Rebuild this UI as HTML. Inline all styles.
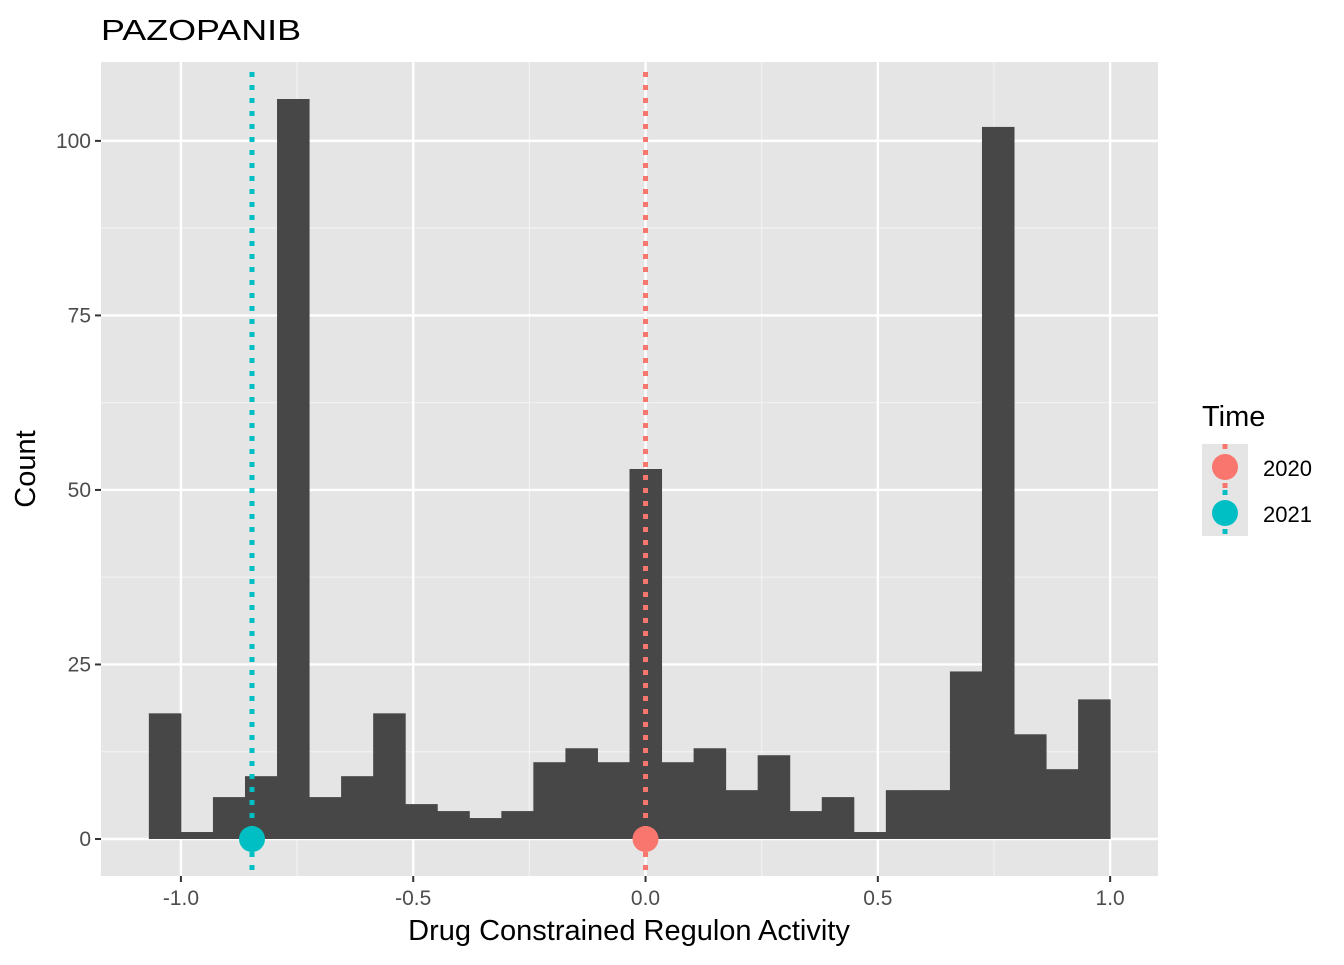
<!DOCTYPE html>
<html><head><meta charset="utf-8"><style>
body{margin:0;background:#fff;font-family:"Liberation Sans",Arial,sans-serif}
</style></head><body>
<svg id="chart" width="1344" height="960" xmlns="http://www.w3.org/2000/svg" font-family="Liberation Sans, Arial, sans-serif">
<text x="101" y="40" font-size="29" fill="#000" textLength="200" lengthAdjust="spacingAndGlyphs">PAZOPANIB</text>
<rect x="101" y="62" width="1057" height="814" fill="#e5e5e5"/>
<g id="grid"></g>
<g id="bars"></g>
<g id="vlines"></g>
<g id="axes"></g>
<text x="629" y="940" font-size="29" text-anchor="middle" fill="#000">Drug Constrained Regulon Activity</text>
<text transform="translate(35,469) rotate(-90)" font-size="29" text-anchor="middle" fill="#000">Count</text>
<g>
<text x="1202" y="426" font-size="29" fill="#000">Time</text>
<rect x="1202" y="444" width="46" height="46" fill="#e5e5e5"/>
<rect x="1202" y="490" width="46" height="46" fill="#e5e5e5"/>
<line x1="1225" y1="444" x2="1225" y2="490" stroke="#F8766D" stroke-width="5" stroke-dasharray="5,8"/>
<line x1="1225" y1="490" x2="1225" y2="536" stroke="#00BFC4" stroke-width="5" stroke-dasharray="5,8"/>
<circle cx="1225" cy="467" r="13" fill="#F8766D"/>
<circle cx="1225" cy="513" r="13" fill="#00BFC4"/>
<text x="1263" y="476" font-size="22" fill="#000">2020</text>
<text x="1263" y="522" font-size="22" fill="#000">2021</text>
</g>
</svg>
<script>
const counts=[18,1,6,9,106,6,9,18,5,4,3,4,11,13,11,53,11,13,7,12,4,6,1,7,7,24,102,15,10,20];
const binStart=-1.069;
const binEnd=1.0;
const xTicks=[-1.0,-0.5,0.0,0.5,1.0];
const xTickLabels=["-1.0","-0.5","0.0","0.5","1.0"];
const yTicks=[0,25,50,75,100];
const vlineValues=[0.0,-0.847];
const vlineColors=["#F8766D","#00BFC4"];
const vlineNames=["2020","2021"];
const NS="http://www.w3.org/2000/svg";
const X0=101,X1=1158,Y0=62,Y1=876;
const xmin=-1.172,xmax=1.103,ymin=-5.3,ymax=111.3;
const sx=v=>X0+(v-xmin)/(xmax-xmin)*(X1-X0);
const sy=v=>Y1-(v-ymin)/(ymax-ymin)*(Y1-Y0);
function mk(tag,attrs,parent){const e=document.createElementNS(NS,tag);for(const k in attrs)e.setAttribute(k,attrs[k]);document.getElementById(parent).appendChild(e);return e;}
for(let i=0;i<yTicks.length-1;i++){const m=(yTicks[i]+yTicks[i+1])/2;const l=mk('line',{x1:X0,x2:X1,y1:sy(m),y2:sy(m),stroke:'#f2f2f2','stroke-width':1.2},'grid');}
for(let i=0;i<xTicks.length-1;i++){const m=(xTicks[i]+xTicks[i+1])/2;const l=mk('line',{y1:Y0,y2:Y1,x1:sx(m),x2:sx(m),stroke:'#f2f2f2','stroke-width':1.2},'grid');}
yTicks.forEach(t=>{const l=mk('line',{x1:X0,x2:X1,y1:sy(t),y2:sy(t),stroke:'#fff','stroke-width':2.4},'grid');
const tk=mk('line',{x1:X0-6,x2:X0,y1:sy(t),y2:sy(t),stroke:'#333','stroke-width':2},'axes');
const tx=mk('text',{x:X0-10,y:sy(t)+7,'font-size':21,'text-anchor':'end',fill:'#4d4d4d'},'axes');tx.textContent=t;});
xTicks.forEach((t,i)=>{const l=mk('line',{y1:Y0,y2:Y1,x1:sx(t),x2:sx(t),stroke:'#fff','stroke-width':2.4},'grid');
const tk=mk('line',{y1:Y1,y2:Y1+6,x1:sx(t),x2:sx(t),stroke:'#333','stroke-width':2},'axes');
const tx=mk('text',{x:sx(t),y:Y1+29,'font-size':21,'text-anchor':'middle',fill:'#4d4d4d'},'axes');tx.textContent=xTickLabels[i];});
const bw=(binEnd-binStart)/counts.length;
counts.forEach((c,i)=>{const a=sx(binStart+i*bw),b=sx(binStart+(i+1)*bw);const r=mk('rect',{x:a,y:sy(c),width:b-a+0.5,height:sy(0)-sy(c),fill:'#474747'},'bars');});
vlineValues.forEach((v,i)=>{const l=mk('line',{x1:sx(v),x2:sx(v),y1:Y0+10,y2:Y1,stroke:vlineColors[i],'stroke-width':5,'stroke-dasharray':'5,8'},'vlines');});
vlineValues.forEach((v,i)=>{const c=mk('circle',{cx:sx(v),cy:sy(0),r:13,fill:vlineColors[i]},'vlines');});
</script>
</body></html>
